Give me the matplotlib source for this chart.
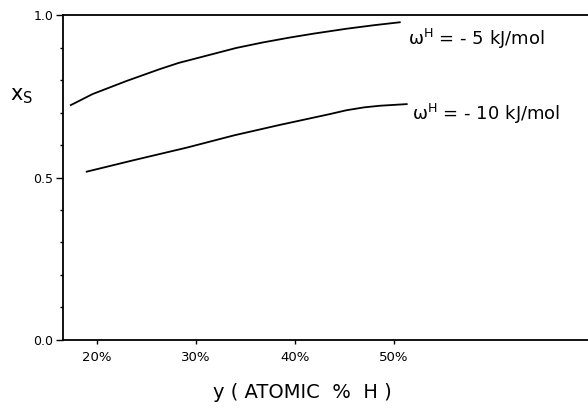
#!/usr/bin/env python3

import matplotlib
matplotlib.use('Agg')
import matplotlib.pyplot as plt
from matplotlib.ticker import MultipleLocator

# hydrogen content y (atomic % H) and surface fraction x_S
y_w5 = [17.4, 19.6, 23.0, 26.4, 28.3, 30.7, 34.1, 36.8, 39.5, 41.9, 45.2, 48.0, 50.6]
xs_w5 = [0.723, 0.757, 0.797, 0.834, 0.853, 0.872, 0.899, 0.916, 0.931, 0.943, 0.958, 0.969, 0.978]

y_w10 = [19.0, 23.7, 29.1, 33.9, 38.5, 43.5, 45.2, 47.0, 48.6, 51.3]
xs_w10 = [0.518, 0.553, 0.592, 0.630, 0.662, 0.695, 0.707, 0.716, 0.721, 0.726]

xticks = [20, 30, 40, 50]
xticklabels = ['20%', '30%', '40%', '50%']
yticks = [0.0, 0.5, 1.0]
yticklabels = ['0.0', '0.5', '1.0']

fig = plt.figure(figsize=(5.88, 4.09), dpi=100)
ax = fig.add_axes([0.107, 0.169, 0.893, 0.794])

ax.plot(y_w5, xs_w5, color='black', lw=1.3)
ax.plot(y_w10, xs_w10, color='black', lw=1.3)

ax.set_xlim(16.6, 69.6)
ax.set_ylim(0.0, 1.0)

ax.set_xticks(xticks)
ax.set_xticklabels(xticklabels, fontsize=9.5)
ax.set_yticks(yticks)
ax.set_yticklabels(yticklabels, fontsize=9)
ax.yaxis.set_minor_locator(MultipleLocator(0.1))
ax.tick_params(axis='y', which='major', length=5, width=1, pad=2)
ax.tick_params(axis='y', which='minor', length=2.5, width=1)
ax.tick_params(axis='x', which='major', length=3, width=1, pad=5)

ax.spines['right'].set_visible(False)
for s in ['left', 'top', 'bottom']:
    ax.spines[s].set_linewidth(1.3)

ax.text(51.4, 0.908, 'ω$^{\\mathrm{H}}$ = - 5 kJ/mol', fontsize=13, va='baseline', ha='left')
ax.text(51.8, 0.677, 'ω$^{\\mathrm{H}}$ = - 10 kJ/mol', fontsize=13, va='baseline', ha='left')

fig.text(0.017, 0.765, r'x$_{\mathrm{S}}$', fontsize=15, va='center', ha='left')
fig.text(0.514, 0.04, 'y ( ATOMIC  %  H )', fontsize=14, va='center', ha='center')

plt.savefig('out.png', dpi=100)
